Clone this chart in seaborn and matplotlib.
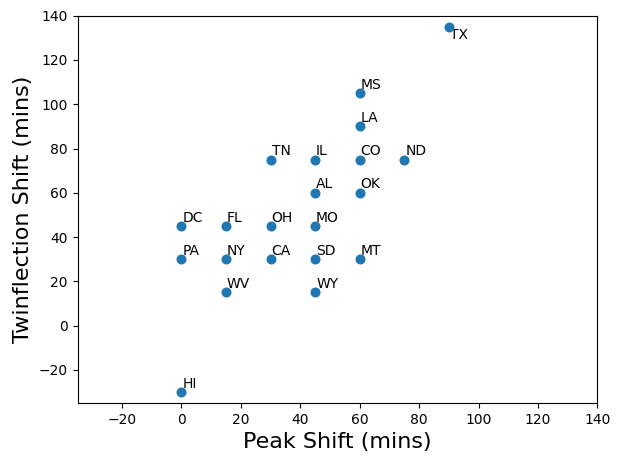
import pandas as pd
import matplotlib
matplotlib.use("Agg")
import matplotlib.pyplot as plt
import seaborn as sns

states = ['TX', 'MS', 'LA', 'TN', 'IL', 'CO', 'ND', 'AL', 'OK', 'DC', 'FL',
          'OH', 'MO', 'PA', 'NY', 'CA', 'SD', 'MT', 'WV', 'WY', 'HI']
peak_shift = [90, 60, 60, 30, 45, 60, 75, 45, 60, 0, 15,
              30, 45, 0, 15, 30, 45, 60, 15, 45, 0]
twinflection_shift = [135, 105, 90, 75, 75, 75, 75, 60, 60, 45, 45,
                      45, 45, 30, 30, 30, 30, 30, 15, 15, -30]

df = pd.DataFrame({'state': states, 'peak': peak_shift, 'twin': twinflection_shift})

fig, ax = plt.subplots(figsize=(6.22, 4.65), dpi=100)
sns.scatterplot(data=df, x='peak', y='twin', color='#1f77b4', s=52, linewidth=0,
                zorder=3, ax=ax)

# labels sit just up-right of each dot, TX goes below
for _, row in df.iterrows():
    dy = -5.5 if row['state'] == 'TX' else 2
    ax.text(row['peak'] + 0.3, row['twin'] + dy, row['state'], fontsize=10, zorder=2)

ax.set_xlim(-35, 140)
ax.set_ylim(-35, 140)
ax.set_xticks(range(-20, 141, 20))
ax.set_yticks(range(-20, 141, 20))
ax.set_xlabel("Peak Shift (mins)", fontsize=16)
ax.set_ylabel("Twinflection Shift (mins)", fontsize=16)

plt.subplots_adjust(left=0.1246, right=0.9606, top=0.9662, bottom=0.1333)
plt.savefig("out.png", dpi=100)
plt.close()
